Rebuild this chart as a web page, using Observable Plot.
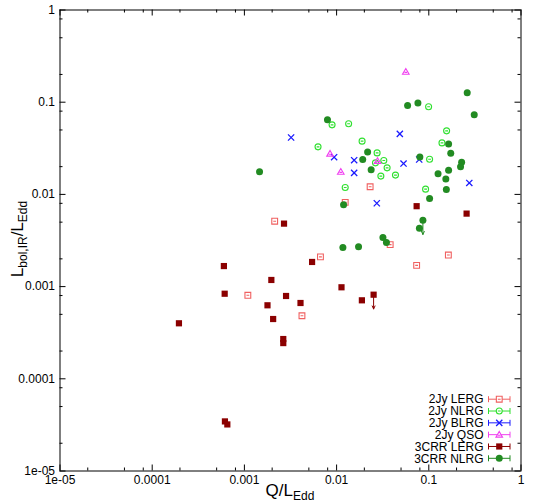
<!DOCTYPE html>
<html><head><meta charset="utf-8">
<script src="https://cdn.jsdelivr.net/npm/d3@7"></script>
<script src="https://cdn.jsdelivr.net/npm/@observablehq/plot@0.6"></script>
<style>
body{margin:0;background:#fff}
svg{font-family:"Liberation Sans",Arial,Helvetica,sans-serif}
</style>
</head><body><div id="chart"></div>
<script>
// ---- data ----
const seriesNames = ["2Jy LERG","2Jy NLRG","2Jy BLRG","2Jy QSO","3CRR LERG","3CRR NLRG"];

const jyLergQ = [0.0231, 0.0124, 0.00213, 0.0381, 0.00668, 0.163, 0.0738, 0.00109, 0.00421];
const jyLergL = [0.0121, 0.00819, 0.00512, 0.00285, 0.00210, 0.00220, 0.00170, 0.000805, 0.000483];

const jyNlrgQ = [0.0995, 0.00893, 0.0135, 0.156, 0.0189, 0.139, 0.00629, 0.0275, 0.0325, 0.0264, 0.102, 0.0353, 0.0302, 0.0435, 0.0124, 0.0923];
const jyNlrgL = [0.0891, 0.0568, 0.0583, 0.0489, 0.0378, 0.0362, 0.0328, 0.0282, 0.0233, 0.0220, 0.0241, 0.0194, 0.0158, 0.0162, 0.01186, 0.0114];

const jyBlrgQ = [0.00321, 0.0485, 0.0094, 0.0155, 0.0787, 0.0532, 0.0155, 0.275, 0.0273];
const jyBlrgL = [0.0414, 0.0454, 0.0253, 0.0235, 0.0239, 0.0216, 0.0171, 0.0133, 0.00802];

const jyQsoQ = [0.0563, 0.00849, 0.0278, 0.0111];
const jyQsoL = [0.214, 0.0277, 0.0231, 0.0176];

const crrLergQ = [0.0738, 0.257, 0.00269, 0.00542, 0.000599, 0.00196, 0.0113, 0.000611, 0.00283, 0.0252, 0.0188, 0.00406, 0.00178, 0.00205, 0.000195, 0.00264, 0.00264, 0.000615, 0.000653];
const crrLergL = [0.00745, 0.00619, 0.00482, 0.00185, 0.00167, 0.00118, 0.000983, 0.000837, 0.000791, 0.000817, 0.000710, 0.000664, 0.000627, 0.000445, 0.000400, 0.000270, 0.000244, 3.45e-5, 3.2e-5];

const crrNlrgQ = [0.261, 0.0589, 0.0762, 0.311, 0.00796, 0.164, 0.0217, 0.173, 0.0192, 0.0800, 0.227, 0.221, 0.0237, 0.164, 0.126, 0.153, 0.00146, 0.155, 0.102, 0.0119, 0.0863, 0.0791, 0.0318, 0.0347, 0.0117, 0.0173];
const crrNlrgL = [0.127, 0.0921, 0.0978, 0.0730, 0.0644, 0.0353, 0.0289, 0.0280, 0.0239, 0.0254, 0.0223, 0.0199, 0.0185, 0.0183, 0.0168, 0.0147, 0.0176, 0.0113, 0.00900, 0.00773, 0.00525, 0.00430, 0.00340, 0.00300, 0.00266, 0.00271];

// upper limits (arrows)
const limitSeries = ["3CRR LERG", "3CRR NLRG"];
const limitQ = [0.0252, 0.0863];
const limitL = [0.000817, 0.00525];

// ticks
const tickValues = [1e-5, 1e-4, 1e-3, 1e-2, 1e-1, 1];
const tickLabels = ["1e-05", "0.0001", "0.001", "0.01", "0.1", "1"];
const minorTickValues = [2e-5,5e-5,8e-5, 2e-4,5e-4,8e-4, 2e-3,5e-3,8e-3, 2e-2,5e-2,8e-2, 0.2,0.5,0.8];

// ---- symbols ----
const openSquare = {draw(c){const h=2.9; c.moveTo(-h,-h); c.lineTo(h,-h); c.lineTo(h,h); c.lineTo(-h,h); c.closePath(); c.moveTo(-1.4,0); c.lineTo(1.4,0);}};
const openCircle = {draw(c){const r=3.0; c.moveTo(r,0); c.arc(0,0,r,0,2*Math.PI); c.closePath(); c.moveTo(-1.4,0); c.lineTo(1.4,0);}};
const openTriangle = {draw(c){c.moveTo(0,-3.2); c.lineTo(3.3,2.5); c.lineTo(-3.3,2.5); c.closePath(); c.moveTo(-1.3,0.6); c.lineTo(1.3,0.6);}};
const timesSym = {draw(c){const r=3.1; c.moveTo(-r,-r); c.lineTo(r,r); c.moveTo(-r,r); c.lineTo(r,-r);}};
const fillSquare = {draw(c){const h=3.1; c.moveTo(-h,-h); c.lineTo(h,-h); c.lineTo(h,h); c.lineTo(-h,h); c.closePath();}};
const fillCircle = {draw(c){const r=3.5; c.moveTo(r,0); c.arc(0,0,r,0,2*Math.PI); c.closePath();}};

const series = [
  {name: seriesNames[0], q: jyLergQ, l: jyLergL, color: "#f06060", sym: openSquare, filled: false},
  {name: seriesNames[1], q: jyNlrgQ, l: jyNlrgL, color: "#30e030", sym: openCircle, filled: false},
  {name: seriesNames[2], q: jyBlrgQ, l: jyBlrgL, color: "#1a1aff", sym: timesSym, filled: false},
  {name: seriesNames[3], q: jyQsoQ, l: jyQsoL, color: "#f040f0", sym: openTriangle, filled: false},
  {name: seriesNames[4], q: crrLergQ, l: crrLergL, color: "#8b0000", sym: fillSquare, filled: true},
  {name: seriesNames[5], q: crrNlrgQ, l: crrNlrgL, color: "#228b22", sym: fillCircle, filled: true}
];
const colorOf = Object.fromEntries(series.map(s => [s.name, s.color]));

// ---- layout ----
const W = 538, H = 503;
const mL = 59.5, mR = 17.5, mT = 9.5, mB = 32.5;
const pw = W - mL - mR, ph = H - mT - mB;
const majorLen = 6, minorLen = 3;

const marks = [];
// ticks (inward, mirrored on all four sides)
for (const [vals, len] of [[tickValues, majorLen], [minorTickValues, minorLen]]) {
  marks.push(Plot.tickX(vals, {x: d => d, insetTop: ph - len, stroke: "#000", strokeWidth: 1}));
  marks.push(Plot.tickX(vals, {x: d => d, insetBottom: ph - len, stroke: "#000", strokeWidth: 1}));
  marks.push(Plot.tickY(vals, {y: d => d, insetRight: pw - len, stroke: "#000", strokeWidth: 1}));
  marks.push(Plot.tickY(vals, {y: d => d, insetLeft: pw - len, stroke: "#000", strokeWidth: 1}));
}
marks.push(Plot.axisX({ticks: tickValues, tickSize: 0, tickPadding: 4, label: null,
  tickFormat: d => tickLabels[tickValues.indexOf(d)], fontSize: 12}));
marks.push(Plot.axisY({ticks: tickValues, tickSize: 0, tickPadding: 5, label: null,
  tickFormat: d => tickLabels[tickValues.indexOf(d)], fontSize: 12}));

// upper-limit arrows
const limits = limitQ.map((q, i) => ({q, l: limitL[i], s: limitSeries[i]}));
marks.push(Plot.arrow(limits, {x1: "q", y1: "l", x2: "q", y2: d => d.l * 0.7,
  stroke: d => colorOf[d.s], strokeWidth: 1, headLength: 5, headAngle: 50}));

for (const s of series) {
  const data = s.q.map((q, i) => ({q, l: s.l[i]}));
  marks.push(Plot.dot(data, {x: "q", y: "l", symbol: s.sym, r: 3,
    fill: s.filled ? s.color : "none",
    stroke: s.filled ? "none" : s.color,
    strokeWidth: s.sym === timesSym ? 1.3 : 1.1}));
}
marks.push(Plot.frame({stroke: "#000", strokeWidth: 1}));

const plot = Plot.plot({
  width: W, height: H,
  marginLeft: mL, marginRight: mR, marginTop: mT, marginBottom: mB,
  style: {background: "#fff", color: "#000", fontSize: "12px", fontFamily: "'Liberation Sans', Arial, sans-serif"},
  x: {type: "log", domain: [1e-5, 1]},
  y: {type: "log", domain: [1e-5, 1]},
  marks
});
document.getElementById("chart").appendChild(plot);

const svg = d3.select(plot);
// axis titles
const xt = svg.append("text").attr("x", mL + pw / 2).attr("y", 496)
  .attr("text-anchor", "middle").attr("font-size", 17).attr("fill", "#000");
xt.append("tspan").text("Q/L");
xt.append("tspan").attr("font-size", 12).attr("dy", 4).text("Edd");

const yt = svg.append("text").attr("transform", `translate(22.5,${mT + ph / 2 - 1}) rotate(-90)`)
  .attr("text-anchor", "middle").attr("font-size", 17).attr("fill", "#000");
yt.append("tspan").text("L");
yt.append("tspan").attr("font-size", 12).attr("dy", 4).text("bol,IR");
yt.append("tspan").attr("dy", -4).text("/L");
yt.append("tspan").attr("font-size", 12).attr("dy", 4).text("Edd");

// legend
const lg = svg.append("g");
const legRight = 483.5, lineX1 = 488.5, lineX2 = 510, legY0 = 399.2, legStep = 11.82;
series.forEach((s, i) => {
  const y = legY0 + i * legStep;
  lg.append("text").attr("x", legRight).attr("y", y + 4.2).attr("text-anchor", "end")
    .attr("font-size", 12).attr("fill", "#000").text(s.name);
  lg.append("path").attr("d", `M${lineX1},${y}H${lineX2}M${lineX1},${y-3}V${y+3}M${lineX2},${y-3}V${y+3}`)
    .attr("stroke", s.color).attr("stroke-width", 1).attr("fill", "none");
  lg.append("path").attr("d", d3.symbol().type(s.sym)())
    .attr("transform", `translate(${(lineX1 + lineX2) / 2},${y})`)
    .attr("fill", s.filled ? s.color : "#fff")
    .attr("stroke", s.filled ? "none" : s.color)
    .attr("stroke-width", s.sym === timesSym ? 1.3 : 1.1);
});
</script>
</body></html>
